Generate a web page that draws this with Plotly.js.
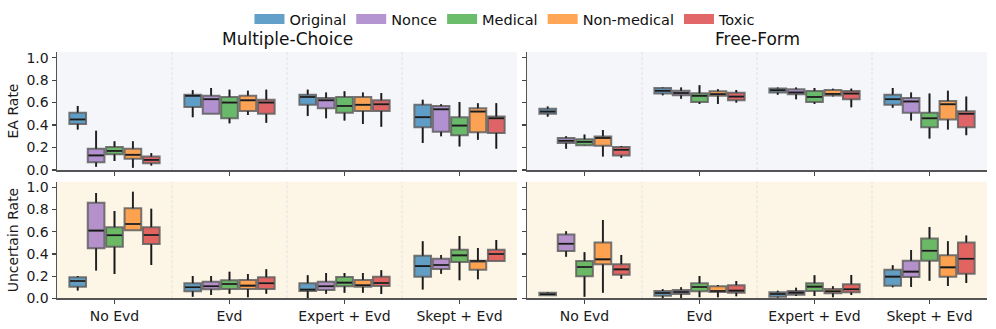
<!DOCTYPE html>
<html>
<head>
<meta charset="utf-8">
<script src="https://cdn.plot.ly/plotly-3.0.1.min.js"></script>
<style>html,body{margin:0;padding:0;background:#fff}#chart{width:996px;height:329px}</style>
</head>
<body>
<div id="chart"></div>
<script>
// ---- data: each entry is [lower whisker, q1, median, q3, upper whisker] per condition ----
const conditions = ["No Evd", "Evd", "Expert + Evd", "Skept + Evd"];
const seriesNames = ["Original", "Nonce", "Medical", "Non-medical", "Toxic"];
const seriesColors = ["31,119,180", "148,103,189", "44,160,44", "255,127,14", "214,39,40"];
const panelTitles = ["Multiple-Choice", "Free-Form"];
const rowTitles = ["EA Rate", "Uncertain Rate"];
const yTicks = [0, 0.2, 0.4, 0.6, 0.8, 1.0];

const mcEA = {
  "Original":    [[0.36,0.41,0.45,0.51,0.57],[0.47,0.56,0.66,0.67,0.71],[0.48,0.58,0.65,0.67,0.715],[0.24,0.38,0.47,0.58,0.625]],
  "Nonce":       [[0.03,0.07,0.13,0.19,0.35],[0.50,0.50,0.63,0.66,0.73],[0.46,0.55,0.62,0.64,0.69],[0.30,0.34,0.54,0.57,0.585]],
  "Medical":     [[0.08,0.14,0.17,0.205,0.255],[0.415,0.46,0.60,0.65,0.715],[0.44,0.51,0.57,0.65,0.70],[0.21,0.31,0.395,0.47,0.605]],
  "Non-medical": [[0.02,0.10,0.135,0.19,0.255],[0.49,0.525,0.62,0.66,0.705],[0.41,0.525,0.58,0.65,0.69],[0.27,0.335,0.52,0.55,0.595]],
  "Toxic":       [[0.04,0.06,0.09,0.12,0.15],[0.42,0.50,0.60,0.625,0.715],[0.385,0.525,0.585,0.62,0.685],[0.19,0.33,0.46,0.475,0.595]]
};
const ffEA = {
  "Original":    [[0.475,0.50,0.52,0.545,0.565],[0.665,0.68,0.705,0.73,0.735],[0.67,0.69,0.71,0.725,0.735],[0.555,0.58,0.63,0.67,0.73]],
  "Nonce":       [[0.19,0.24,0.26,0.285,0.30],[0.635,0.665,0.685,0.705,0.733],[0.63,0.675,0.69,0.718,0.733],[0.44,0.51,0.61,0.64,0.69]],
  "Medical":     [[0.217,0.22,0.25,0.273,0.315],[0.588,0.605,0.66,0.682,0.754],[0.588,0.605,0.65,0.703,0.73],[0.28,0.38,0.46,0.51,0.68]],
  "Non-medical": [[0.12,0.215,0.285,0.297,0.356],[0.588,0.66,0.675,0.70,0.718],[0.653,0.662,0.677,0.712,0.724],[0.36,0.45,0.585,0.615,0.706]],
  "Toxic":       [[0.11,0.13,0.18,0.205,0.214],[0.60,0.62,0.653,0.688,0.712],[0.558,0.63,0.68,0.703,0.724],[0.31,0.38,0.50,0.522,0.653]]
};
const mcUnc = {
  "Original":    [[0.07,0.105,0.156,0.189,0.20],[0.015,0.063,0.10,0.135,0.20],[0.0,0.066,0.078,0.135,0.207],[0.08,0.195,0.29,0.384,0.514]],
  "Nonce":       [[0.25,0.45,0.61,0.862,0.95],[0.03,0.081,0.108,0.15,0.20],[0.04,0.075,0.108,0.15,0.228],[0.222,0.264,0.30,0.357,0.39]],
  "Medical":     [[0.22,0.465,0.568,0.64,0.787],[0.042,0.084,0.129,0.162,0.24],[0.051,0.108,0.141,0.192,0.228],[0.162,0.327,0.387,0.438,0.562]],
  "Non-medical": [[0.613,0.613,0.67,0.811,0.96],[0.01,0.084,0.114,0.165,0.22],[0.051,0.105,0.117,0.165,0.228],[0.171,0.258,0.336,0.339,0.453]],
  "Toxic":       [[0.30,0.489,0.571,0.64,0.808],[0.042,0.084,0.135,0.189,0.261],[0.039,0.111,0.138,0.195,0.252],[0.336,0.336,0.399,0.438,0.526]]
};
const ffUnc = {
  "Original":    [[0.027,0.027,0.036,0.051,0.057],[0.0,0.024,0.048,0.066,0.081],[0.006,0.015,0.039,0.054,0.069],[0.099,0.114,0.195,0.258,0.297]],
  "Nonce":       [[0.375,0.426,0.492,0.574,0.604],[0.0,0.039,0.057,0.075,0.099],[0.021,0.033,0.051,0.066,0.096],[0.102,0.192,0.24,0.339,0.435]],
  "Medical":     [[0.015,0.198,0.282,0.336,0.414],[0.009,0.063,0.102,0.135,0.201],[0.021,0.066,0.105,0.135,0.207],[0.159,0.339,0.429,0.538,0.643]],
  "Non-medical": [[0.051,0.306,0.351,0.502,0.706],[0.009,0.057,0.066,0.108,0.12],[0.009,0.045,0.063,0.084,0.108],[0.111,0.195,0.279,0.387,0.514]],
  "Toxic":       [[0.177,0.213,0.261,0.306,0.39],[0.018,0.051,0.069,0.117,0.156],[0.03,0.054,0.081,0.126,0.21],[0.138,0.222,0.357,0.502,0.565]]
};

// ---- build ----
const FONT = "DejaVu Sans, Verdana, sans-serif";
const panels = [
  {data: mcEA,  xa: "x",  ya: "y"},
  {data: ffEA,  xa: "x2", ya: "y2"},
  {data: mcUnc, xa: "x3", ya: "y3"},
  {data: ffUnc, xa: "x4", ya: "y4"}
];
const slot = 0.16, boxW = 0.145;
const traces = [];
panels.forEach(p => {
  seriesNames.forEach((s, si) => {
    const stats = p.data[s];
    const off = (si - (seriesNames.length - 1) / 2) * slot;
    const xs = conditions.map((c, ci) => ci + off);
    traces.push({
      type: "box", xaxis: p.xa, yaxis: p.ya, x: xs,
      lowerfence: stats.map(v => v[0]), q1: stats.map(v => v[1]),
      median: stats.map(v => v[2]), q3: stats.map(v => v[3]),
      upperfence: stats.map(v => v[4]),
      width: boxW, whiskerwidth: 0,
      fillcolor: "rgba(" + seriesColors[si] + ",0.7)",
      line: {color: "rgba(95,95,95,0.85)", width: 2},
      showlegend: false, hoverinfo: "skip", boxpoints: false
    });
    // black whiskers and median on top
    const lx = [], ly = [];
    stats.forEach((v, ci) => {
      const x = xs[ci];
      if (v[4] > v[3]) { lx.push(x, x, null); ly.push(v[3], v[4], null); }
      if (v[0] < v[1]) { lx.push(x, x, null); ly.push(v[0], v[1], null); }
      lx.push(x - boxW / 2 + 0.006, x + boxW / 2 - 0.006, null); ly.push(v[2], v[2], null);
    });
    traces.push({
      type: "scatter", mode: "lines", xaxis: p.xa, yaxis: p.ya, x: lx, y: ly,
      line: {color: "#1a1a1a", width: 1.6}, showlegend: false, hoverinfo: "skip",
      connectgaps: false
    });
  });
});
// legend entries
seriesNames.forEach((s, si) => {
  traces.push({
    type: "scatter", mode: "lines", x: [null], y: [null], name: s,
    line: {color: "rgba(" + seriesColors[si] + ",0.7)", width: 10},
    showlegend: true, hoverinfo: "skip"
  });
});

const W = 996, H = 329;
const xDom = [[57 / W, 517 / W], [527 / W, 987 / W]];
const yDom = [[(H - 170) / H, (H - 52) / H], [(H - 298.3) / H, (H - 181.8) / H]];
const bgColors = ["#f5f6fa", "#fdf5e6"];

function xaxis(col, row) {
  return {
    domain: xDom[col], range: [-0.5, conditions.length - 0.5],
    tickvals: conditions.map((c, i) => i), ticktext: conditions,
    showticklabels: row === 1, ticks: "outside", ticklen: 4, tickwidth: 1.2, tickcolor: "#444",
    showline: true, linecolor: "#555", linewidth: 1.5, showgrid: false, zeroline: false,
    tickfont: {family: FONT, size: 14, color: "#1a1a1a"}, fixedrange: true,
    anchor: ["y", "y2", "y3", "y4"][row * 2 + col]
  };
}
function yaxis(col, row) {
  const a = {
    domain: yDom[row], range: [0, 1.05], tickvals: yTicks,
    ticktext: yTicks.map(v => v.toFixed(1)),
    showticklabels: col === 0, ticks: "outside", ticklen: 4, tickwidth: 1.2, tickcolor: "#444",
    showline: true, linecolor: "#555", linewidth: 1.5, showgrid: false, zeroline: false,
    tickfont: {family: FONT, size: 14, color: "#1a1a1a"}, fixedrange: true,
    anchor: ["x", "x2", "x3", "x4"][row * 2 + col]
  };
  if (col === 0) a.title = {text: rowTitles[row], font: {family: FONT, size: 14, color: "#1a1a1a"}, standoff: 4};
  return a;
}

const shapes = [];
["", "2", "3", "4"].forEach((k, i) => {
  const row = Math.floor(i / 2), col = i % 2;
  shapes.push({type: "rect", xref: "x" + k + " domain", yref: "y" + k + " domain",
    x0: 0, x1: 1, y0: 0, y1: 1, fillcolor: bgColors[row], line: {width: 0}, layer: "below"});
  for (let c = 1; c < conditions.length; c++) {
    shapes.push({type: "line", xref: "x" + k, yref: "y" + k + " domain",
      x0: c - 0.5, x1: c - 0.5, y0: 0, y1: 1, line: {color: "#dcdce0", width: 0.8, dash: "3px,2px"}, layer: "below"});
  }
});

const annotations = panelTitles.map((t, i) => ({
  text: t, xref: "paper", yref: "paper", x: (xDom[i][0] + xDom[i][1]) / 2, y: (H - 39) / H,
  xanchor: "center", yanchor: "middle", showarrow: false,
  font: {family: FONT, size: 17, color: "#111"}
}));

const layout = {
  width: W, height: H, margin: {l: 0, r: 0, t: 0, b: 0},
  paper_bgcolor: "#fff", plot_bgcolor: "rgba(0,0,0,0)",
  font: {family: FONT, color: "#222"},
  xaxis: xaxis(0, 0), xaxis2: xaxis(1, 0), xaxis3: xaxis(0, 1), xaxis4: xaxis(1, 1),
  yaxis: yaxis(0, 0), yaxis2: yaxis(1, 0), yaxis3: yaxis(0, 1), yaxis4: yaxis(1, 1),
  shapes: shapes, annotations: annotations,
  showlegend: true,
  legend: {orientation: "h", x: 0.507, xanchor: "center", y: (H - 19) / H, yanchor: "middle",
    font: {family: FONT, size: 14.5, color: "#111"}, bgcolor: "rgba(0,0,0,0)", itemwidth: 30,
    tracegroupgap: 0},
  boxmode: "overlay", hovermode: false
};
Plotly.newPlot("chart", traces, layout, {staticPlot: true, displayModeBar: false});
</script>
</body>
</html>
